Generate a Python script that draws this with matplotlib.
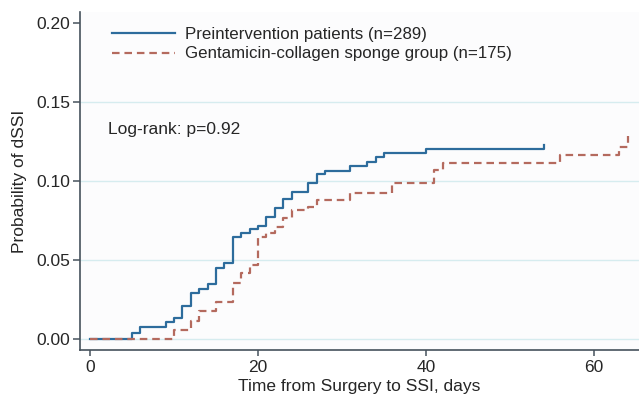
import matplotlib
matplotlib.use("Agg")
import matplotlib.pyplot as plt

plt.rcParams['font.family'] = ['Liberation Sans', 'DejaVu Sans']

# Preintervention patients (n=289): step times (days) and cumulative probability
pre_days = [0, 5, 6, 9, 10, 11, 12, 13, 14, 15, 16, 17, 18, 19, 20, 21, 22, 23,
            24, 26, 27, 28, 31, 33, 34, 35, 40, 54]
pre_prob = [0.0, 0.0035, 0.0078, 0.0105, 0.0131, 0.0209, 0.0293, 0.0316, 0.0348,
            0.0450, 0.0479, 0.0647, 0.0668, 0.0696, 0.0717, 0.0770, 0.0826, 0.0883,
            0.0931, 0.0985, 0.1043, 0.1064, 0.1094, 0.1121, 0.1149, 0.1174, 0.1200,
            0.1225]

# Gentamicin-collagen sponge group (n=175)
gcs_days = [0, 10, 12, 13, 15, 17, 18, 19, 20, 21, 22, 23, 24, 26, 27, 31, 36,
            41, 42, 56, 63, 64]
gcs_prob = [0.0, 0.0057, 0.0114, 0.0177, 0.0236, 0.0352, 0.0415, 0.0468, 0.0643,
            0.0668, 0.0710, 0.0763, 0.0816, 0.0833, 0.0879, 0.0925, 0.0985, 0.1069,
            0.1110, 0.1163, 0.1216, 0.1284]

labels = ["Preintervention patients (n=289)",
          "Gentamicin-collagen sponge group (n=175)"]
x_ticks = [0, 20, 40, 60]
y_ticks = [0.00, 0.05, 0.10, 0.15, 0.20]
y_tick_labels = ["0.00", "0.05", "0.10", "0.15", "0.20"]

blue = "#2d6c9c"
red = "#b46a5e"
axis_col = "#46525c"
txt = "#262626"
fs = 12.5

fig = plt.figure(figsize=(6.39, 4.11), dpi=100)
fig.patch.set_facecolor("white")
ax = fig.add_axes([80/639, 61/411, 559/639, 338/411])
ax.set_facecolor("#fcfcfd")

ax.step(pre_days, pre_prob, where="post", color=blue, lw=1.6, label=labels[0],
        zorder=3)
ax.step(gcs_days, gcs_prob, where="post", color=red, lw=1.6, label=labels[1],
        dashes=(3.4, 2.2), zorder=3)

ax.set_xlim(-1.19, 65.36)
ax.set_ylim(-0.00696, 0.2068)
ax.set_xticks(x_ticks)
ax.set_yticks(y_ticks)
ax.set_yticklabels(y_tick_labels)

ax.yaxis.grid(True, color="#d6ecef", lw=1.0, zorder=0)
ax.get_ygridlines()[-1].set_visible(False)

for s in ["top", "right"]:
    ax.spines[s].set_visible(False)
for s in ["left", "bottom"]:
    ax.spines[s].set_color(axis_col)
    ax.spines[s].set_linewidth(1.2)

ax.tick_params(axis="y", direction="out", length=5, width=1.1, color=axis_col,
               labelsize=fs, labelcolor=txt, pad=2)
ax.tick_params(axis="x", direction="out", length=4, width=1.1, color=axis_col,
               labelsize=fs, labelcolor=txt, pad=3)

ax.set_xlabel("Time from Surgery to SSI, days", fontsize=fs, color=txt,
              labelpad=3)
ax.set_ylabel("Probability of dSSI", fontsize=fs, color=txt, labelpad=7)

ax.text(0.05, 0.651, "Log-rank: p=0.92", transform=ax.transAxes, fontsize=fs,
        color=txt, va="center", ha="left")

leg = ax.legend(loc="upper left", bbox_to_anchor=(0.046, 0.975), frameon=False,
                fontsize=12.2, handlelength=3.7, handletextpad=0.6,
                labelspacing=0.25, borderaxespad=0.0)
for t in leg.get_texts():
    t.set_color(txt)

fig.savefig("out.png", dpi=100)
